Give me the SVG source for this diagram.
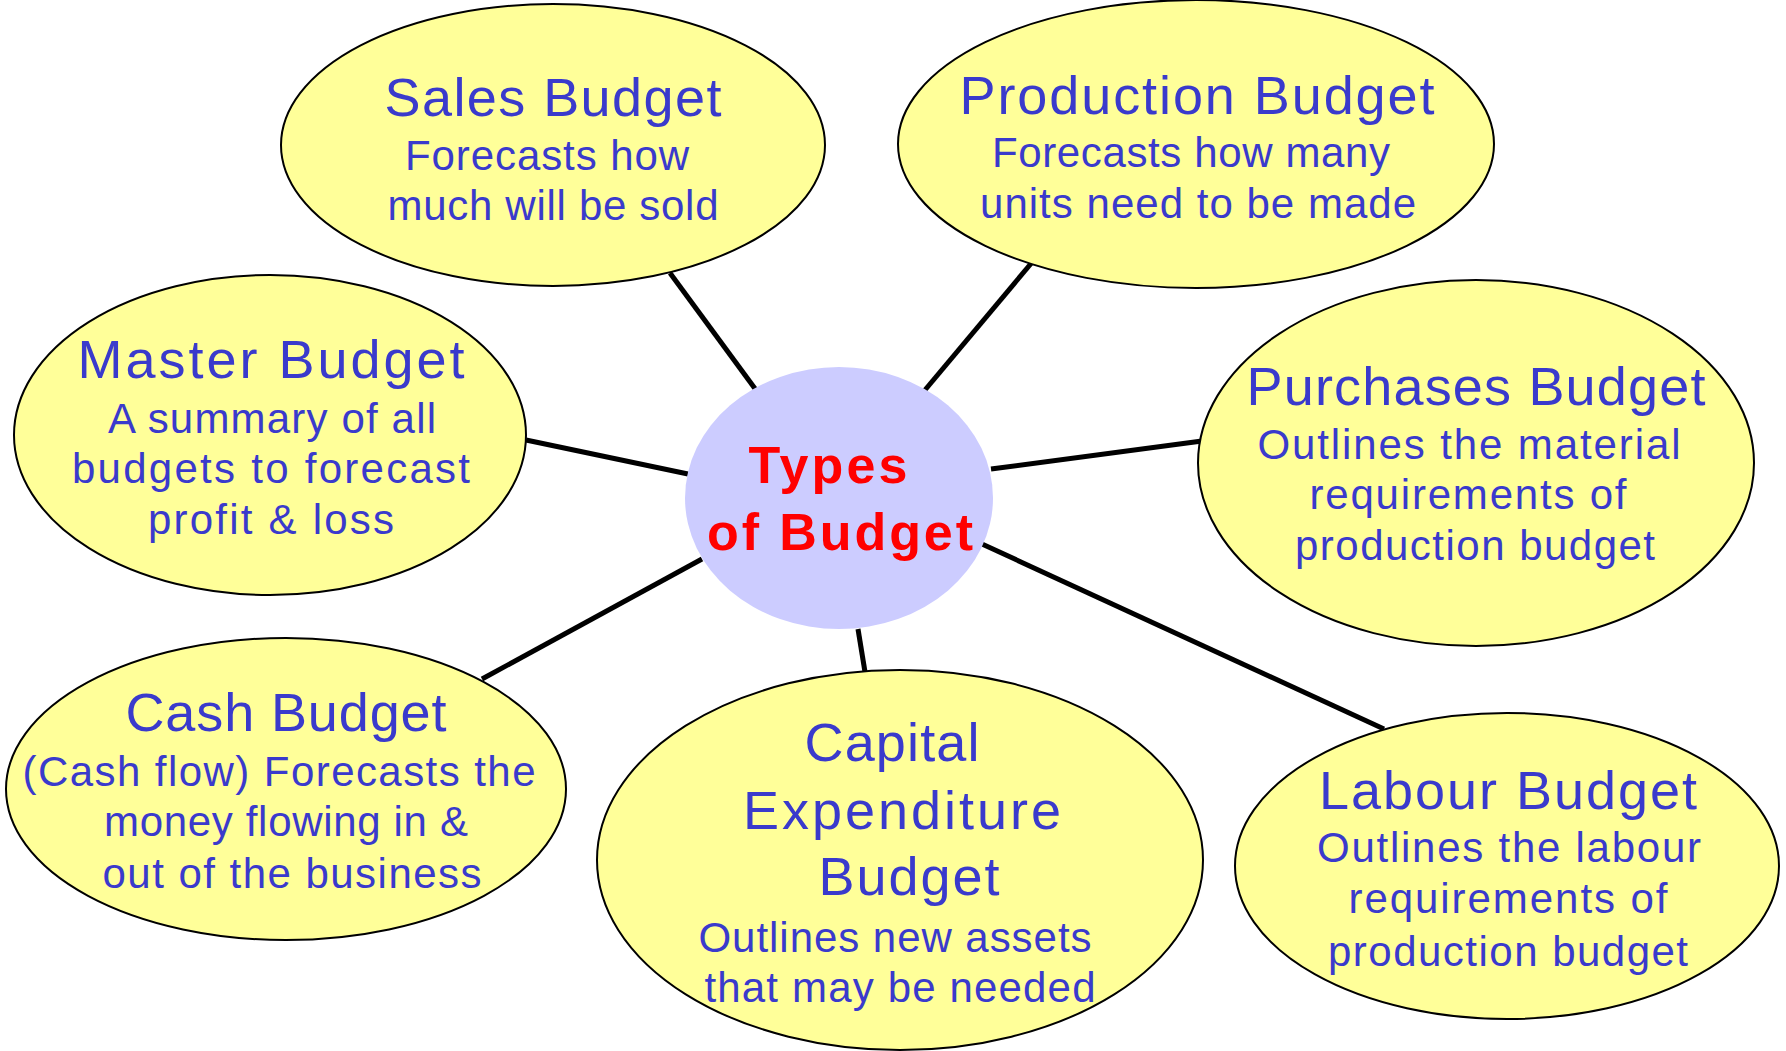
<svg xmlns="http://www.w3.org/2000/svg" width="1786" height="1051" viewBox="0 0 1786 1051">
<style>
.bg{fill:#ffffff}
.node{fill:#ffff99;stroke:#000000;stroke-width:2}
.hub{fill:#ccccff;stroke:none}
.conn{stroke:#000000;stroke-width:5;fill:none;stroke-linecap:butt}
text{font-family:'Comic Sans MS','Liberation Sans',sans-serif;text-anchor:middle}
.t{font-size:54px;fill:#3a3acc}
.s{font-size:42px;fill:#3a3acc}
.c{font-size:52px;font-weight:bold;fill:#ff0000}
</style>
<rect class="bg" x="0" y="0" width="1786" height="1051"/>
<g id="connectors">
<line class="conn" x1="670" y1="273" x2="756" y2="390"/>
<line class="conn" x1="1034" y1="260" x2="925" y2="390"/>
<line class="conn" x1="526" y1="440" x2="688" y2="474"/>
<line class="conn" x1="1202" y1="441" x2="991" y2="469"/>
<line class="conn" x1="482" y1="679" x2="702" y2="559"/>
<line class="conn" x1="858" y1="629" x2="865" y2="672"/>
<line class="conn" x1="982" y1="544" x2="1384" y2="729"/>
</g>
<g id="sales">
<ellipse class="node" cx="553" cy="145" rx="272" ry="141"/>
<text class="t" x="553" y="116" textLength="337">Sales Budget</text>
<text class="s" x="547" y="170" textLength="284">Forecasts how</text>
<text class="s" x="553" y="220" textLength="331">much will be sold</text>
</g>
<g id="production">
<ellipse class="node" cx="1196" cy="144" rx="298" ry="144"/>
<text class="t" x="1197" y="114" textLength="475">Production Budget</text>
<text class="s" x="1191" y="167" textLength="398">Forecasts how many</text>
<text class="s" x="1198" y="218" textLength="436">units need to be made</text>
</g>
<g id="master">
<ellipse class="node" cx="270" cy="435" rx="256" ry="160"/>
<text class="t" x="271" y="378" textLength="387">Master Budget</text>
<text class="s" x="272" y="433" textLength="328">A summary of all</text>
<text class="s" x="271" y="483" textLength="398">budgets to forecast</text>
<text class="s" x="271" y="534" textLength="246">profit &amp; loss</text>
</g>
<g id="purchases">
<ellipse class="node" cx="1476" cy="463" rx="278" ry="183"/>
<text class="t" x="1476" y="405" textLength="459">Purchases Budget</text>
<text class="s" x="1469" y="459" textLength="423">Outlines the material</text>
<text class="s" x="1468" y="509" textLength="317">requirements of</text>
<text class="s" x="1475" y="560" textLength="360">production budget</text>
</g>
<g id="cash">
<ellipse class="node" cx="286" cy="789" rx="280" ry="151"/>
<text class="t" x="286" y="731" textLength="321">Cash Budget</text>
<text class="s" x="279" y="786" textLength="513">(Cash flow) Forecasts the</text>
<text class="s" x="286" y="836" textLength="364">money flowing in &amp;</text>
<text class="s" x="292" y="888" textLength="379">out of the business</text>
</g>
<g id="capital">
<ellipse class="node" cx="900" cy="860" rx="303" ry="190"/>
<text class="t" x="892" y="761" textLength="175">Capital</text>
<text class="t" x="902" y="829" textLength="318">Expenditure</text>
<text class="t" x="909" y="895" textLength="181">Budget</text>
<text class="s" x="895" y="952" textLength="393">Outlines new assets</text>
<text class="s" x="900" y="1002" textLength="391">that may be needed</text>
</g>
<g id="labour">
<ellipse class="node" cx="1507" cy="866" rx="272" ry="153"/>
<text class="t" x="1508" y="809" textLength="378">Labour Budget</text>
<text class="s" x="1509" y="862" textLength="384">Outlines the labour</text>
<text class="s" x="1508" y="913" textLength="319">requirements of</text>
<text class="s" x="1508" y="966" textLength="360">production budget</text>
</g>
<g id="types">
<ellipse class="hub" cx="839" cy="498" rx="154" ry="131"/>
<text class="c" x="828" y="483" textLength="159">Types</text>
<text class="c" x="840" y="550" textLength="266">of Budget</text>
</g>
</svg>
